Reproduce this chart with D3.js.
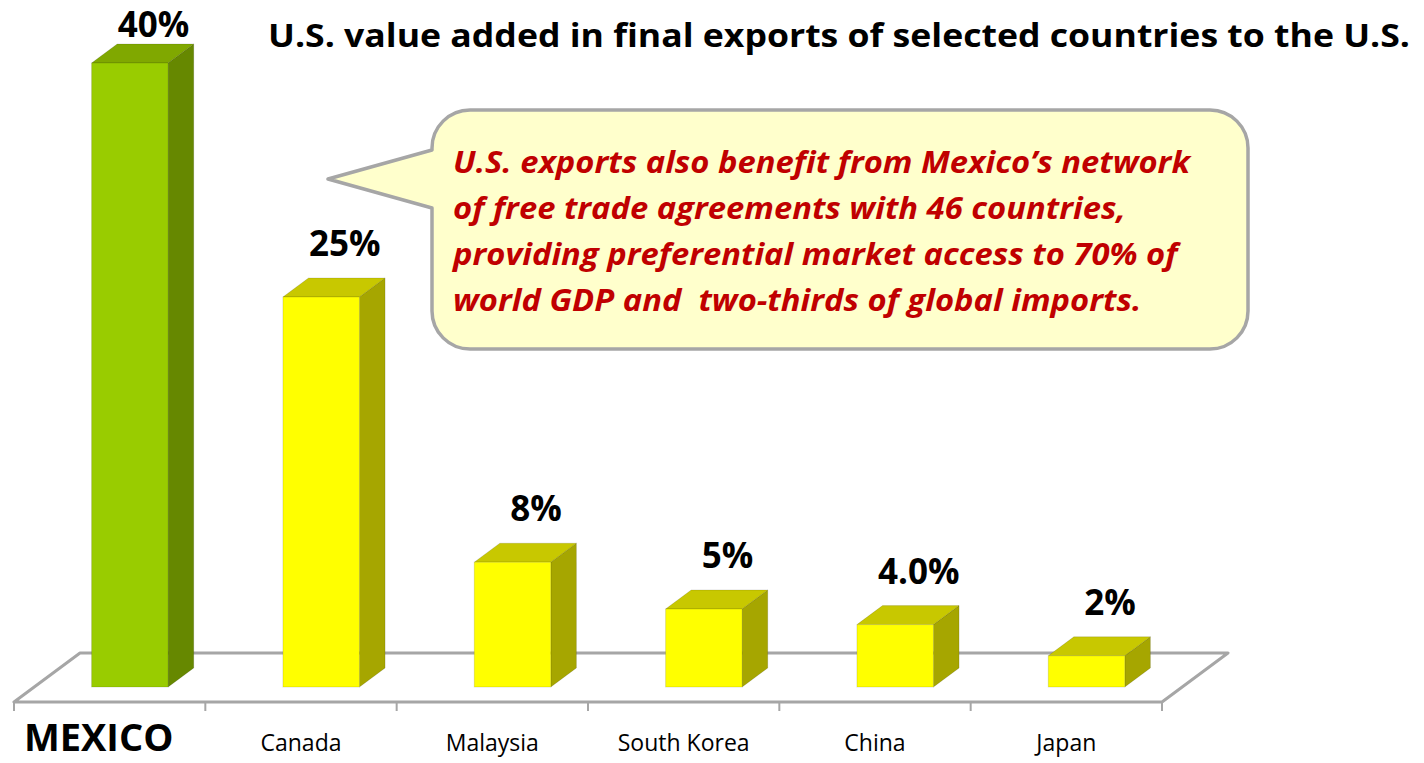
<!DOCTYPE html>
<html lang="en">
<head>
<meta charset="UTF-8">
<title>U.S. value added in final exports</title>
<script src="https://d3js.org/d3.v7.min.js"></script>
<style>
  body { margin: 0; background: #fff; }
  svg { display: block; font-family: "Open Sans", "DejaVu Sans", sans-serif; }
  .callout text { white-space: pre; }
</style>
</head>
<body>
<script>
// data
const categories = ["MEXICO", "Canada", "Malaysia", "South Korea", "China", "Japan"];
const values = [40, 25, 8, 5, 4, 2];
const valueLabels = ["40%", "25%", "8%", "5%", "4.0%", "2%"];
const highlighted = ["MEXICO"];
const titleText = "U.S. value added in final exports of selected countries to the U.S.";
const calloutLines = [
  "U.S. exports also benefit from Mexico\u2019s network",
  "of free trade agreements with 46 countries,",
  "providing preferential market access to 70% of",
  "world GDP and  two-thirds of global imports."
];

const W = 1424, H = 763;
const svg = d3.select("body").append("svg").attr("width", W).attr("height", H);

// floor geometry (oblique 3D look)
const floorFrontY = 702;
const depth = { dx: 66, dy: -49 };
const barDepthStart = 0.306, barDepthEnd = 0.694;

const x = d3.scaleBand()
  .domain(categories)
  .range([14, 1162])
  .paddingInner(0.6)
  .paddingOuter(0.3);

const h = d3.scaleLinear().domain([0, 40]).range([0, 624]);

// floor
const fl = [
  [x.range()[0], floorFrontY],
  [x.range()[1], floorFrontY],
  [x.range()[1] + depth.dx, floorFrontY + depth.dy],
  [x.range()[0] + depth.dx, floorFrontY + depth.dy]
];
svg.append("path")
  .attr("d", "M" + fl.join("L") + "Z")
  .attr("fill", "#fff")
  .attr("stroke", "#a6a6a6")
  .attr("stroke-width", 3)
  .attr("stroke-linejoin", "round");

// tick marks along the front edge at band boundaries
const tickXs = d3.range(categories.length + 1).map(i => x.range()[0] + i * x.step());
svg.append("g").selectAll("line").data(tickXs).join("line")
  .attr("x1", d => d).attr("x2", d => d)
  .attr("y1", floorFrontY).attr("y2", floorFrontY + 9)
  .attr("stroke", "#a6a6a6").attr("stroke-width", 2);

// bars
const colors = {
  hi: { front: "#99cc00", top: "#80a800", side: "#668800" },
  lo: { front: "#ffff00", top: "#c8c800", side: "#a6a600" }
};
const ox = depth.dx * barDepthStart, oy = depth.dy * barDepthStart;
const bdx = depth.dx * (barDepthEnd - barDepthStart), bdy = depth.dy * (barDepthEnd - barDepthStart);

svg.append("g").selectAll("g").data(categories).join("g")
  .each(function (c, i) {
    const g = d3.select(this);
    const col = highlighted.includes(c) ? colors.hi : colors.lo;
    const xl = x(c) + ox, xr = xl + x.bandwidth();
    const yb = floorFrontY + oy, yt = yb - h(values[i]);
    const poly = pts => "M" + pts.join("L") + "Z";
    g.append("path")
      .attr("d", poly([[xr, yb], [xr, yt], [xr + bdx, yt + bdy], [xr + bdx, yb + bdy]]))
      .attr("fill", col.side).attr("stroke", "rgba(0,0,0,0.12)").attr("stroke-width", 1);
    g.append("path")
      .attr("d", poly([[xl, yt], [xl + bdx, yt + bdy], [xr + bdx, yt + bdy], [xr, yt]]))
      .attr("fill", col.top).attr("stroke", "rgba(0,0,0,0.12)").attr("stroke-width", 1);
    g.append("rect")
      .attr("x", xl).attr("y", yt)
      .attr("width", x.bandwidth()).attr("height", yb - yt)
      .attr("fill", col.front).attr("stroke", "rgba(0,0,0,0.12)").attr("stroke-width", 1);
    // value label above the back top edge
    g.append("text")
      .attr("x", (xl + xr) / 2 + bdx - 2)
      .attr("y", Math.max(yt + bdy - 22, 37))
      .attr("text-anchor", "middle")
      .attr("font-size", 35)
      .attr("font-weight", 700)
      .attr("fill", "#000")
      .text(valueLabels[i]);
  });

// category labels
svg.append("g").selectAll("text").data(categories).join("text")
  .attr("x", d => x(d) + x.bandwidth() / 2 + (highlighted.includes(d) ? -11 : 0))
  .attr("y", d => highlighted.includes(d) ? 751 : 751)
  .attr("text-anchor", "middle")
  .attr("font-size", d => highlighted.includes(d) ? 38 : 23)
  .attr("font-weight", d => highlighted.includes(d) ? 700 : 400)
  .attr("fill", "#000")
  .text(d => d);

// title
svg.append("text")
  .attr("x", 268).attr("y", 47)
  .attr("font-size", 32)
  .attr("font-weight", 700)
  .attr("fill", "#000")
  .attr("textLength", 1142)
  .attr("lengthAdjust", "spacingAndGlyphs")
  .text(titleText);

// callout bubble
const cb = { x0: 432, y0: 110, x1: 1248, y1: 349, r: 38 };
const tip = [328, 179], baseTop = 150, baseBot = 208;
const bubble = svg.append("g").attr("class", "callout");
bubble.append("path")
  .attr("d", [
    `M${cb.x0 + cb.r},${cb.y0}`,
    `H${cb.x1 - cb.r}`,
    `A${cb.r},${cb.r} 0 0 1 ${cb.x1},${cb.y0 + cb.r}`,
    `V${cb.y1 - cb.r}`,
    `A${cb.r},${cb.r} 0 0 1 ${cb.x1 - cb.r},${cb.y1}`,
    `H${cb.x0 + cb.r}`,
    `A${cb.r},${cb.r} 0 0 1 ${cb.x0},${cb.y1 - cb.r}`,
    `V${baseBot}`,
    `L${tip[0]},${tip[1]}`,
    `L${cb.x0},${baseTop}`,
    `V${cb.y0 + cb.r}`,
    `A${cb.r},${cb.r} 0 0 1 ${cb.x0 + cb.r},${cb.y0}`,
    "Z"
  ].join(""))
  .attr("fill", "#ffffcc")
  .attr("stroke", "#a6a6a6")
  .attr("stroke-width", 3.5)
  .attr("stroke-linejoin", "round");

const lineTexts = bubble.selectAll("text").data(calloutLines).join("text")
  .attr("x", 453)
  .attr("y", (d, i) => 173 + i * 46)
  .attr("font-size", 29.5)
  .attr("font-weight", 700)
  .attr("font-style", "italic")
  .attr("fill", "#c00000")
  .text(d => d);

// squeeze callout lines so the first one spans like the original
const firstW = lineTexts.nodes()[0].getComputedTextLength();
const k = 737 / firstW;
lineTexts.each(function () {
  const w = this.getComputedTextLength();
  d3.select(this).attr("textLength", w * k).attr("lengthAdjust", "spacingAndGlyphs");
});
</script>
</body>
</html>
